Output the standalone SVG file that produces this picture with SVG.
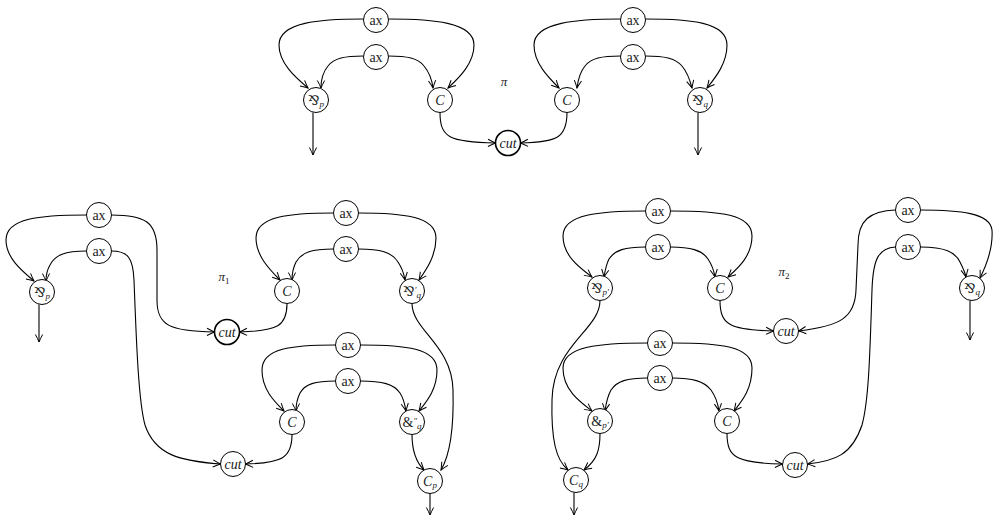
<svg xmlns="http://www.w3.org/2000/svg" width="993" height="516" viewBox="0 0 993 516">
<style>
.n{fill:#fff;stroke:#000;stroke-width:1}
.thick{stroke-width:1.6}
.e{fill:none;stroke:#000;stroke-width:1.1;marker-end:url(#arr)}
.t{font-family:"Liberation Serif","DejaVu Serif",serif;font-size:14px;fill:#222;text-anchor:middle}
.i{font-style:italic}
.par{font-family:"DejaVu Serif","DejaVu Sans",serif;font-size:13px}
.s{font-size:9px;font-style:italic}
.lbl{font-family:"Liberation Serif","DejaVu Serif",serif;font-size:13px;fill:#222;text-anchor:middle}
</style>
<defs>
<marker id="arr" markerUnits="userSpaceOnUse" markerWidth="12" markerHeight="10" refX="0" refY="0" viewBox="-9 -5 10 10" orient="auto" overflow="visible">
<path d="M-7.5,-3.6 Q-3,-1.2 0,0 Q-3,1.2 -7.5,3.6" fill="none" stroke="#000" stroke-width="1"/>
</marker>
</defs>

<g id="connectors">
<!-- top -->
<path class="e" d="M363.5,19 C320,19 279,22 279,45 C279,63 295,77 308,88"/>
<path class="e" d="M388.5,19 C432,19 474,22 474,45 C474,63 460,77 448,88"/>
<path class="e" d="M363.5,56 C345,56 334,58 328,66 C323,72 321,80 321,88"/>
<path class="e" d="M388.5,56 C407,56 418,58 424,66 C429,72 432,80 433,88"/>
<path class="e" d="M620.5,19 C578,19 534,22 534,45 C534,63 548,77 559,88"/>
<path class="e" d="M645.5,19 C690,19 727,22 727,45 C727,63 716,77 707,88"/>
<path class="e" d="M620.5,56 C602,56 591,58 585,66 C580,72 578,80 577,88"/>
<path class="e" d="M645.5,56 C664,56 675,58 682,66 C687,72 690,80 692,88"/>
<path class="e" d="M440,112.5 C440,138 450,142 495.5,143"/>
<path class="e" d="M567,112.5 C567,138 557,142 520.5,143"/>
<path class="e" d="M313,112.5 L313,155"/>
<path class="e" d="M698,112.5 L698,155"/>
<!-- pi1 -->
<path class="e" d="M86.5,215 C40,215 6,218 6,240 C6,258 22,271 34,281"/>
<path class="e" d="M111.5,215 C145,215 157,222 157,250 L157,300 C157,326 170,331 214.5,332"/>
<path class="e" d="M86.5,251 C65,251 55,255 50,265 C47,270 46,275 46,281"/>
<path class="e" d="M111.5,251 C128,251 133,258 134,280 C136,330 138,400 145,425 C155,455 180,461 220.5,464"/>
<path class="e" d="M333.5,213 C290,213 256,216 256,238 C256,256 270,270 280,280"/>
<path class="e" d="M358.5,213 C402,213 436,216 436,238 C436,256 426,270 419,280"/>
<path class="e" d="M333.5,249 C312,249 302,252 296,262 C293,268 292,274 292,280"/>
<path class="e" d="M358.5,249 C380,249 392,252 398,262 C402,268 404,274 405,280"/>
<path class="e" d="M287,303.5 C287,326 278,331 239.5,332"/>
<path class="e" d="M412,303.5 C412,330 452,345 453,390 C454,430 450,455 441,470"/>
<path class="e" d="M335.5,345 C292,345 262,348 262,370 C262,390 275,402 284,411"/>
<path class="e" d="M360.5,345 C405,345 437,348 437,370 C437,390 426,402 419,411"/>
<path class="e" d="M335.5,381 C315,381 305,384 300,393 C297,399 296,405 296,411"/>
<path class="e" d="M360.5,381 C382,381 394,384 400,393 C404,399 405,405 406,411"/>
<path class="e" d="M292,434.5 C292,458 282,463 245.5,464"/>
<path class="e" d="M412,434.5 C412,450 415,461 424,470"/>
<path class="e" d="M430,493.5 L430,515"/>
<path class="e" d="M39,304.5 L39,342"/>
<!-- pi2 -->
<path class="e" d="M645.5,211 C600,211 563,214 563,236 C563,256 580,268 592,277"/>
<path class="e" d="M670.5,211 C720,211 752,214 752,236 C752,256 738,268 728,277"/>
<path class="e" d="M645.5,247 C625,247 615,250 609,259 C606,265 605,271 604,277"/>
<path class="e" d="M670.5,247 C690,247 702,250 708,259 C712,265 714,271 715,277"/>
<path class="e" d="M720,300.5 C720,325 730,330 773.5,331"/>
<path class="e" d="M600,300.5 C600,330 553,345 552,400 C551,440 556,460 568,470"/>
<path class="e" d="M895.5,210 C870,211 858,220 858,245 L856,290 C855,318 840,326 798.5,331"/>
<path class="e" d="M920.5,210 C960,210 990,213 992,230 C993,245 988,262 980,278"/>
<path class="e" d="M895.5,247 C878,248 873,260 872,290 C870,350 869,400 862,425 C852,455 835,461 807.5,464"/>
<path class="e" d="M920.5,247 C945,247 955,252 960,262 C963,268 965,272 966,277"/>
<path class="e" d="M970,300.5 L970,340"/>
<path class="e" d="M647.5,343 C600,343 563,346 563,368 C563,390 580,402 592,411"/>
<path class="e" d="M672.5,343 C720,343 752,346 752,368 C752,390 741,402 734,411"/>
<path class="e" d="M647.5,378 C627,378 617,381 611,390 C607,397 606,404 605,411"/>
<path class="e" d="M672.5,378 C692,378 704,381 711,390 C716,397 718,404 719,411"/>
<path class="e" d="M727,433.5 C727,458 737,463 782.5,464"/>
<path class="e" d="M600,433.5 C600,450 597,460 584,470"/>
<path class="e" d="M574,492.5 L574,515"/>
</g>

<!-- labels -->
<text class="lbl" x="504" y="86" font-style="italic">π</text>
<text class="lbl" x="224" y="281" font-style="italic">π<tspan font-size="9" font-style="normal" dy="3">1</tspan></text>
<text class="lbl" x="784" y="276" font-style="italic">π<tspan font-size="9" font-style="normal" dy="3">2</tspan></text>

<!-- top nodes -->
<g id="ax_t1"><circle class="n" cx="376" cy="20" r="12.5"/><text class="t" x="376" y="24.5">ax</text></g>
<g id="ax_t2"><circle class="n" cx="376" cy="57" r="12.5"/><text class="t" x="376" y="61.5">ax</text></g>
<g id="ax_t3"><circle class="n" cx="633" cy="20" r="12.5"/><text class="t" x="633" y="24.5">ax</text></g>
<g id="ax_t4"><circle class="n" cx="633" cy="57" r="12.5"/><text class="t" x="633" y="61.5">ax</text></g>
<g id="par_p"><circle class="n" cx="316" cy="100" r="12.5"/><text class="t" x="316" y="104.5"><tspan class="par">⅋</tspan><tspan class="s" dy="2">p</tspan></text></g>
<g id="c_t1"><circle class="n" cx="440" cy="100" r="12.5"/><text class="t i" x="440" y="105">C</text></g>
<g id="c_t2"><circle class="n" cx="567" cy="100" r="12.5"/><text class="t i" x="567" y="105">C</text></g>
<g id="par_q"><circle class="n" cx="700" cy="100" r="12.5"/><text class="t" x="700" y="104.5"><tspan class="par">⅋</tspan><tspan class="s" dy="2">q</tspan></text></g>
<g id="cut_t"><circle class="n thick" cx="508" cy="143" r="12.5"/><text class="t i" x="508" y="147.5">cut</text></g>

<!-- pi1 nodes -->
<g id="ax_a1"><circle class="n" cx="99" cy="215" r="12.5"/><text class="t" x="99" y="219.5">ax</text></g>
<g id="ax_a2"><circle class="n" cx="99" cy="251" r="12.5"/><text class="t" x="99" y="255.5">ax</text></g>
<g id="par_p1"><circle class="n" cx="42" cy="292" r="12.5"/><text class="t" x="42" y="296.5"><tspan class="par">⅋</tspan><tspan class="s" dy="2">p</tspan></text></g>
<g id="cut_a"><circle class="n thick" cx="227" cy="332" r="12.5"/><text class="t i" x="227" y="336.5">cut</text></g>
<g id="ax_a3"><circle class="n" cx="346" cy="213" r="12.5"/><text class="t" x="346" y="217.5">ax</text></g>
<g id="ax_a4"><circle class="n" cx="346" cy="249" r="12.5"/><text class="t" x="346" y="253.5">ax</text></g>
<g id="c_a1"><circle class="n" cx="287" cy="291" r="12.5"/><text class="t i" x="287" y="296">C</text></g>
<g id="par_q1"><circle class="n" cx="412" cy="291" r="12.5"/><text class="t" x="412" y="295.5"><tspan class="par">⅋</tspan><tspan class="s" dy="-3">′</tspan><tspan class="s" dy="5">q</tspan></text></g>
<g id="ax_a5"><circle class="n" cx="348" cy="345" r="12.5"/><text class="t" x="348" y="349.5">ax</text></g>
<g id="ax_a6"><circle class="n" cx="348" cy="381" r="12.5"/><text class="t" x="348" y="385.5">ax</text></g>
<g id="c_a2"><circle class="n" cx="292" cy="422" r="12.5"/><text class="t i" x="292" y="427">C</text></g>
<g id="amp_q"><circle class="n" cx="412" cy="422" r="12.5"/><text class="t" x="412" y="426.5"><tspan>&amp;</tspan><tspan class="s" dy="-3">″</tspan><tspan class="s" dy="5">q</tspan></text></g>
<g id="cut_b"><circle class="n" cx="233" cy="464" r="12.5"/><text class="t i" x="233" y="468.5">cut</text></g>
<g id="c_p"><circle class="n" cx="430" cy="481" r="12.5"/><text class="t" x="430" y="485.5"><tspan class="i">C</tspan><tspan class="s" dy="2">p</tspan></text></g>

<!-- pi2 nodes -->
<g id="ax_b1"><circle class="n" cx="658" cy="211" r="12.5"/><text class="t" x="658" y="215.5">ax</text></g>
<g id="ax_b2"><circle class="n" cx="658" cy="247" r="12.5"/><text class="t" x="658" y="251.5">ax</text></g>
<g id="par_pp"><circle class="n" cx="600" cy="288" r="12.5"/><text class="t" x="600" y="292.5"><tspan class="par">⅋</tspan><tspan class="s" dy="2">p′</tspan></text></g>
<g id="c_b1"><circle class="n" cx="720" cy="288" r="12.5"/><text class="t i" x="720" y="293">C</text></g>
<g id="cut_c"><circle class="n" cx="786" cy="331" r="12.5"/><text class="t i" x="786" y="335.5">cut</text></g>
<g id="ax_b3"><circle class="n" cx="908" cy="210" r="12.5"/><text class="t" x="908" y="214.5">ax</text></g>
<g id="ax_b4"><circle class="n" cx="908" cy="247" r="12.5"/><text class="t" x="908" y="251.5">ax</text></g>
<g id="par_q2"><circle class="n" cx="972" cy="288" r="12.5"/><text class="t" x="972" y="292.5"><tspan class="par">⅋</tspan><tspan class="s" dy="2">q</tspan></text></g>
<g id="ax_b5"><circle class="n" cx="660" cy="343" r="12.5"/><text class="t" x="660" y="347.5">ax</text></g>
<g id="ax_b6"><circle class="n" cx="660" cy="378" r="12.5"/><text class="t" x="660" y="382.5">ax</text></g>
<g id="amp_pp"><circle class="n" cx="600" cy="421" r="12.5"/><text class="t" x="600" y="425.5"><tspan>&amp;</tspan><tspan class="s" dy="2">p′</tspan></text></g>
<g id="c_b2"><circle class="n" cx="727" cy="421" r="12.5"/><text class="t i" x="727" y="426">C</text></g>
<g id="c_q"><circle class="n" cx="576" cy="480" r="12.5"/><text class="t" x="576" y="484.5"><tspan class="i">C</tspan><tspan class="s" dy="2">q</tspan></text></g>
<g id="cut_d"><circle class="n" cx="795" cy="465" r="12.5"/><text class="t i" x="795" y="469.5">cut</text></g>
</svg>
